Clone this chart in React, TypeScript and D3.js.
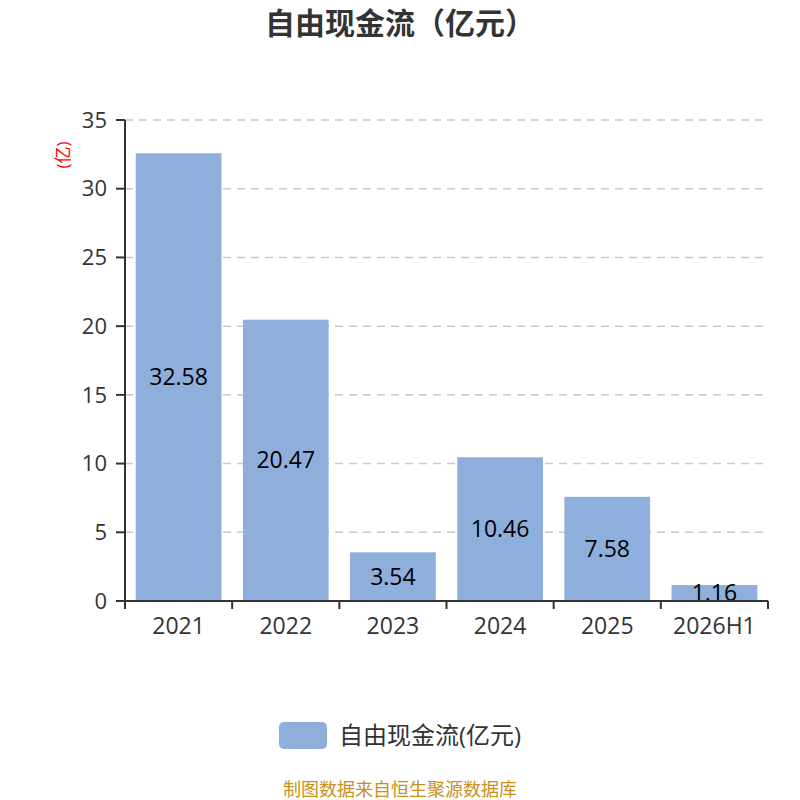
import * as d3 from 'd3'

const categories = ['2021', '2022', '2023', '2024', '2025', '2026H1']
const values = [32.58, 20.47, 3.54, 10.46, 7.58, 1.16]
const yTicks = [0, 5, 10, 15, 20, 25, 30, 35]

const FONT = '"Open Sans", "Noto Sans CJK SC", "Noto Sans", sans-serif'
const BAR = '#8eaedb'

export default function App() {
  const width = 800
  const height = 800
  const margin = { top: 120, right: 32, bottom: 199, left: 125 }

  const x = d3.scaleBand<string>()
    .domain(categories)
    .range([margin.left, width - margin.right])
    .paddingInner(0.2)
    .paddingOuter(0.1)
  const y = d3.scaleLinear().domain([0, 35]).range([height - margin.bottom, margin.top])

  const x0 = margin.left
  const x1 = width - margin.right
  const step = (x1 - x0) / categories.length
  const bounds = d3.range(categories.length + 1).map(i => x0 + step * i)
  const bw = x.bandwidth()

  return (
    <svg width={width} height={height}
      style={{ display: 'block', position: 'absolute', left: 0, top: 0, fontFamily: FONT }}>
      <rect width={width} height={height} fill="#fff" />
      <text x={width / 2} y={34} textAnchor="middle" fontSize={30} fontWeight="bold" fill="#333">
        自由现金流（亿元）
      </text>

      {/* grid */}
      {yTicks.filter(t => t > 0).map(t => (
        <line key={t} x1={x0} x2={x1 - 2} y1={y(t)} y2={y(t)}
          stroke="#c8c8c8" strokeWidth={1.5} strokeDasharray="8,6" />
      ))}

      {/* bars */}
      {categories.map((c, i) => {
        const cx = (x(c) ?? 0) + bw / 2
        return (
          <g key={c}>
            <rect x={x(c)} y={y(values[i])} width={bw} height={y(0) - y(values[i])} fill={BAR} />
            <text x={cx} y={(y(values[i]) + y(0)) / 2} dy="0.35em" textAnchor="middle"
              fontSize={23} fill="#000">{values[i].toFixed(2)}</text>
          </g>
        )
      })}

      {/* y axis */}
      <line x1={x0} x2={x0} y1={y(35)} y2={y(0) + 1} stroke="#333" strokeWidth={2} />
      {yTicks.map(t => (
        <g key={t}>
          <line x1={x0 - 9} x2={x0} y1={y(t)} y2={y(t)} stroke="#333" strokeWidth={2} />
          <text x={x0 - 18} y={y(t)} dy="0.35em" textAnchor="end" fontSize={22} fill="#333">{t}</text>
        </g>
      ))}
      <text transform={`translate(69,155) rotate(-90)`} textAnchor="middle" fontSize={17} fill="#f00">(亿)</text>

      {/* x axis */}
      <line x1={x0} x2={x1} y1={y(0)} y2={y(0)} stroke="#333" strokeWidth={2} />
      {bounds.map((b, i) => (
        <line key={i} x1={b} x2={b} y1={y(0)} y2={y(0) + 8} stroke="#333" strokeWidth={2} />
      ))}
      {categories.map((c, i) => (
        <text key={c} x={(bounds[i] + bounds[i + 1]) / 2} y={y(0) + 25} dy="0.35em"
          textAnchor="middle" fontSize={23} fill="#333">{c}</text>
      ))}

      {/* legend */}
      <rect x={279} y={722} width={48} height={27} rx={5} fill={BAR} />
      <text x={339} y={735.5} dy="0.35em" fontSize={24} fill="#333">自由现金流(亿元)</text>

      <text x={width / 2} y={796} textAnchor="middle" fontSize={18} fill="#c8901c">
        制图数据来自恒生聚源数据库
      </text>
    </svg>
  )
}
